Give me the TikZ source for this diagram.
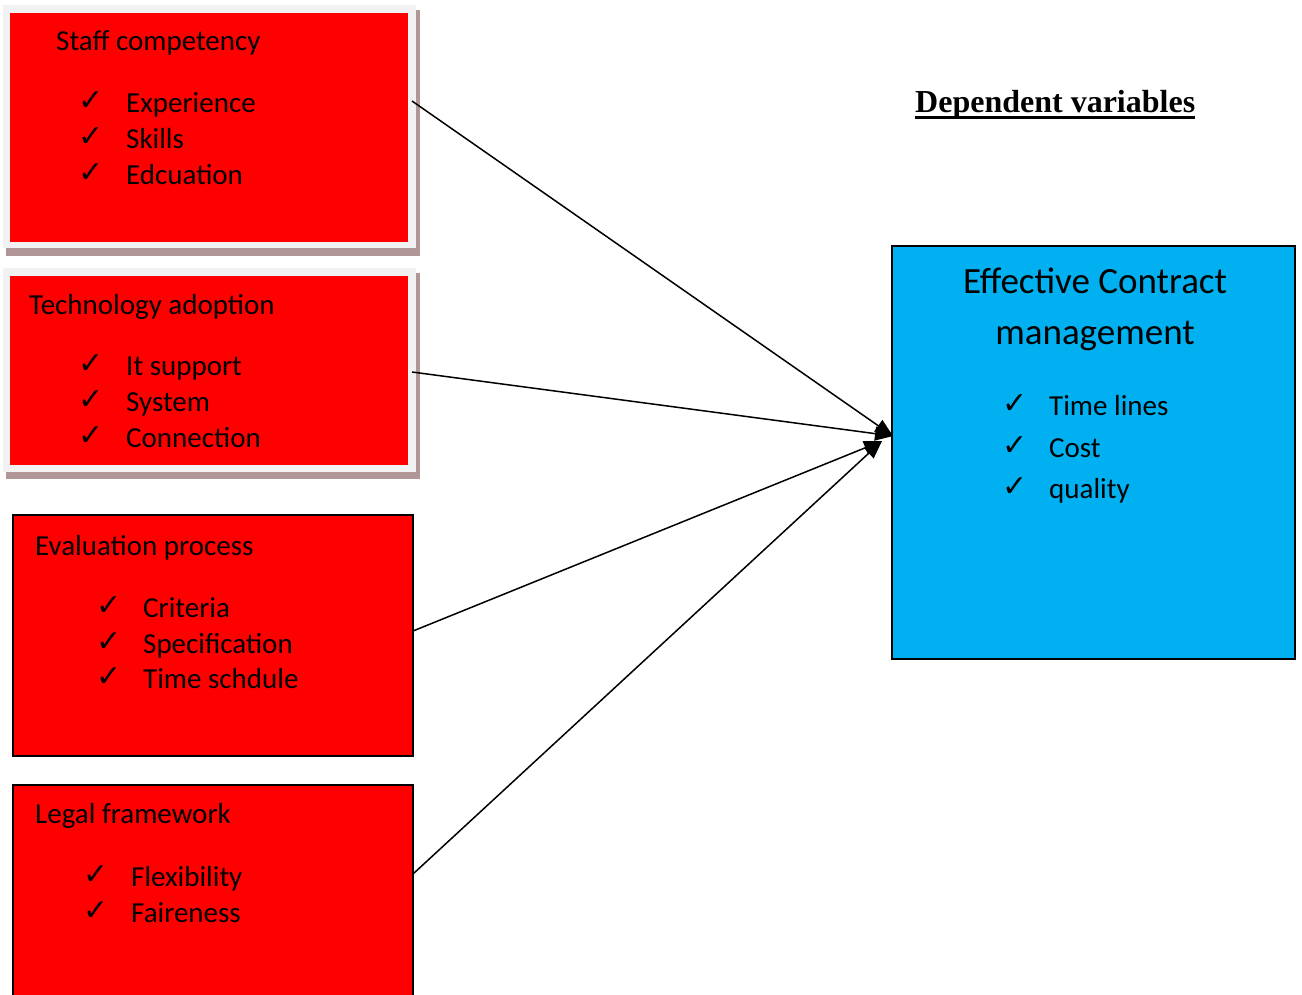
\documentclass[tikz,border=0pt]{standalone}
\usepackage{fontspec}
\setmainfont{Carlito}
\newfontfamily\tnr{Liberation Serif}
\newfontfamily\dv{DejaVu Sans}
\usetikzlibrary{arrows.meta}
\definecolor{boxred}{HTML}{FF0000}
\definecolor{boxblue}{HTML}{00B0F0}
\definecolor{framegray}{HTML}{F2F2F2}
\definecolor{shadowc}{HTML}{B09696}
\tikzset{
  txt/.style={anchor=base west, inner sep=0pt, font=\fontsize{29}{35}\selectfont},
  chk/.style={anchor=base west, inner sep=0pt, font=\dv\fontsize{30}{30}\selectfont},
  bigtxt/.style={anchor=base, inner sep=0pt, font=\fontsize{37}{44}\selectfont},
  rect/.style={anchor=north west, inner sep=0pt, outer sep=0pt},
  arr/.style={line width=1.5pt, -{Triangle[length=18pt,width=14pt]}},
}
\begin{document}
\begin{tikzpicture}[x=1pt,y=-1pt]
\useasboundingbox (0,0) rectangle (1302,994);
\clip (0,0) rectangle (1302,994);
% box 1
\node[rect, fill=shadowc, minimum width=414pt, minimum height=246pt] (sh1) at (6,10) {};
\node[rect, fill=framegray, minimum width=413pt, minimum height=243pt] (f1) at (3,5) {};
\node[rect, fill=boxred, minimum width=398pt, minimum height=229pt] (b1) at (10,13) {};
% box 2
\node[rect, fill=shadowc, minimum width=414pt, minimum height=206pt] (sh2) at (6,273) {};
\node[rect, fill=framegray, minimum width=413pt, minimum height=204pt] (f2) at (3,268) {};
\node[rect, fill=boxred, minimum width=398pt, minimum height=189pt] (b2) at (10,276) {};
% box 3
\node[rect, fill=boxred, draw=black, line width=1.4pt, minimum width=400pt, minimum height=241pt] (b3) at (13,515) {};
% box 4
\node[rect, fill=boxred, draw=black, line width=1.4pt, minimum width=400pt, minimum height=240pt] (b4) at (13,785) {};
% blue box
\node[rect, fill=boxblue, draw=black, line width=1.4pt, minimum width=403pt, minimum height=413pt] (bb) at (892,246) {};

% texts box 1
\node[txt] (h1) at (56,50) {Staff competency};
\node[chk] (c11) at (78,110) {✓}; \node[txt] (t11) at (126,112) {Experience};
\node[chk] (c12) at (78,146) {✓}; \node[txt] (t12) at (126,148) {Skills};
\node[chk] (c13) at (78,182) {✓}; \node[txt] (t13) at (126,184) {Edcuation};
% box 2
\node[txt] (h2) at (29,314) {Technology adoption};
\node[chk] (c21) at (78,373) {✓}; \node[txt] (t21) at (126,375) {It support};
\node[chk] (c22) at (78,409) {✓}; \node[txt] (t22) at (126,411) {System};
\node[chk] (c23) at (78,445) {✓}; \node[txt] (t23) at (126,447) {Connection};
% box 3
\node[txt] (h3) at (35,555) {Evaluation process};
\node[chk] (c31) at (96,615) {✓}; \node[txt] (t31) at (143,617) {Criteria};
\node[chk] (c32) at (96,651) {✓}; \node[txt] (t32) at (143,653) {Specification};
\node[chk] (c33) at (96,686) {✓}; \node[txt] (t33) at (143,688) {Time schdule};
% box 4
\node[txt] (h4) at (35,823) {Legal framework};
\node[chk] (c41) at (83,884) {✓}; \node[txt] (t41) at (131,886) {Flexibility};
\node[chk] (c42) at (83,920) {✓}; \node[txt] (t42) at (131,922) {Faireness};
% blue box
\node[bigtxt] (hb1) at (1095,293) {Effective Contract};
\node[bigtxt] (hb2) at (1095,344) {management};
\node[chk] (cb1) at (1002,413) {✓}; \node[txt] (tb1) at (1049,415) {Time lines};
\node[chk] (cb2) at (1002,455) {✓}; \node[txt] (tb2) at (1049,457) {Cost};
\node[chk] (cb3) at (1002,496) {✓}; \node[txt] (tb3) at (1049,498) {quality};
% title
\node[anchor=base west, inner sep=0pt, font=\tnr\bfseries\fontsize{32}{36}\selectfont] (title) at (915,112) {Dependent variables};
\draw[line width=2.5pt] ([yshift=-5.5pt]title.base west) -- ([yshift=-5.5pt]title.base east);

% connectors
\coordinate (s1) at (412,101);
\coordinate (s2) at (412,372);
\coordinate (s3) at (413,631);
\coordinate (s4) at (413,874);
\coordinate (e1) at (893,436);
\coordinate (e2) at (882,441);
\draw[arr] (s1) -- (e1);
\draw[arr] (s2) -- (e1);
\draw[arr] (s3) -- (e2);
\draw[arr] (s4) -- (e2);
\end{tikzpicture}
\end{document}
